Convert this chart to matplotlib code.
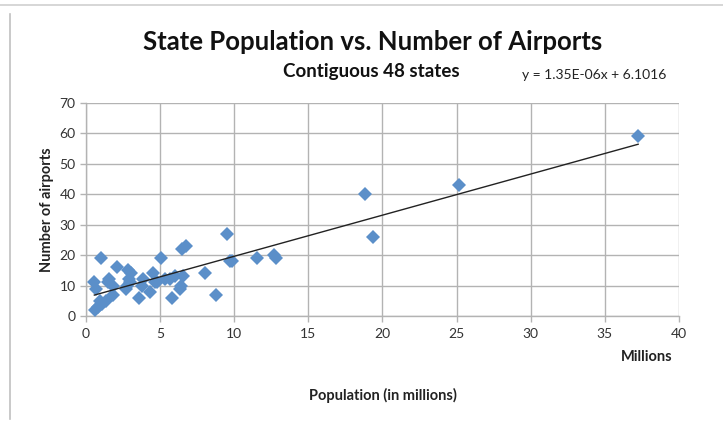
import matplotlib
matplotlib.use("Agg")
import matplotlib.pyplot as plt
from matplotlib.lines import Line2D
import numpy as np

# Population (millions) of contiguous 48 states and number of airports
states = ["CA", "TX", "NY", "FL", "IL", "PA", "OH", "MI", "GA", "NC",
          "NJ", "VA", "WA", "MA", "IN", "AZ", "TN", "MO", "MD", "WI",
          "MN", "CO", "AL", "SC", "LA", "KY", "OR", "OK", "CT", "IA",
          "MS", "AR", "KS", "UT", "NV", "NM", "WV", "NE", "ID", "ME",
          "NH", "RI", "MT", "DE", "SD", "ND", "VT", "WY"]
population = [37.25, 25.15, 19.38, 18.80, 12.83, 12.70, 11.54, 9.88, 9.69, 9.54,
              8.79, 8.00, 6.72, 6.48, 6.55, 6.39, 6.35, 5.99, 5.77, 5.69,
              5.30, 5.03, 4.78, 4.63, 4.53, 4.34, 3.83, 3.75, 3.57, 3.05,
              2.97, 2.92, 2.85, 2.76, 2.70, 2.06, 1.85, 1.83, 1.57, 1.33,
              1.50, 1.05, 0.99, 0.94, 0.81, 0.67, 0.60, 0.56]
airports = [59, 43, 26, 40, 19, 20, 19, 18, 18, 27,
            7, 14, 23, 22, 13, 10, 9, 13, 6, 12,
            12, 19, 11, 11, 14, 8, 12, 10, 6, 14,
            11, 12, 15, 10, 9, 16, 7, 10, 12, 5,
            11, 4, 19, 5, 3, 9, 2, 11]

# Trendline from the chart's equation (x in people): y = 1.35E-06x + 6.1016
slope_per_million = 1.35
intercept = 6.1016
equation_label = "y = 1.35E-06x + 6.1016"

x_ticks = [0, 5, 10, 15, 20, 25, 30, 35, 40]
y_ticks = [0, 10, 20, 30, 40, 50, 60, 70]

FONT = "Lato"
plt.rcParams["font.family"] = [FONT, "DejaVu Sans"]

fig = plt.figure(figsize=(7.23, 4.23), dpi=100)
ax = fig.add_axes([0.119, 0.253, 0.820, 0.504])

grid_color = "#b3b3b3"
ax.set_xlim(0, 40)
ax.set_ylim(0, 70)
ax.set_xticks(x_ticks)
ax.set_yticks(y_ticks)
ax.grid(True, color=grid_color, linewidth=1.0)
ax.set_axisbelow(True)
for side in ["top", "right"]:
    ax.spines[side].set_visible(False)
for side in ["left", "bottom"]:
    ax.spines[side].set_color(grid_color)
    ax.spines[side].set_linewidth(1.0)
ax.tick_params(axis="both", color=grid_color, length=4, width=1.0,
               labelsize=10, labelcolor="#333333")
ax.tick_params(axis="x", pad=5)

ax.plot(population, airports, linestyle="none", marker="D", markersize=7.5,
        color="#5b8fc9", markeredgewidth=0, zorder=3)

xs = np.array([min(population), max(population)])
ax.plot(xs, slope_per_million * xs + intercept, color="#222222", linewidth=1.0, zorder=4)

ax.set_ylabel("Number of airports", fontsize=10.5, fontweight="bold", labelpad=4, color="#222222")

fig.text(0.515, 0.900, "State Population vs. Number of Airports", ha="center", va="center",
         fontsize=18.5, fontweight="bold", color="#111111")
fig.text(0.514, 0.830, "Contiguous 48 states", ha="center", va="center",
         fontsize=13.5, fontweight="bold", color="#111111")
fig.text(0.822, 0.823, equation_label, ha="center", va="center",
         fontsize=10, color="#222222")
fig.text(0.894, 0.157, "Millions", ha="center", va="center",
         fontsize=10.5, fontweight="bold", color="#222222")
fig.text(0.530, 0.066, "Population (in millions)", ha="center", va="center",
         fontsize=10.5, fontweight="bold", color="#222222")

# screenshot frame lines
fig.add_artist(Line2D([0, 1], [1 - 5 / 423, 1 - 5 / 423], color="#d0d0d0", linewidth=1.2))
fig.add_artist(Line2D([10 / 723, 10 / 723], [1 - 14 / 423, 0.01], color="#c0c0c0", linewidth=1.2))

fig.savefig("out.png", dpi=100)
